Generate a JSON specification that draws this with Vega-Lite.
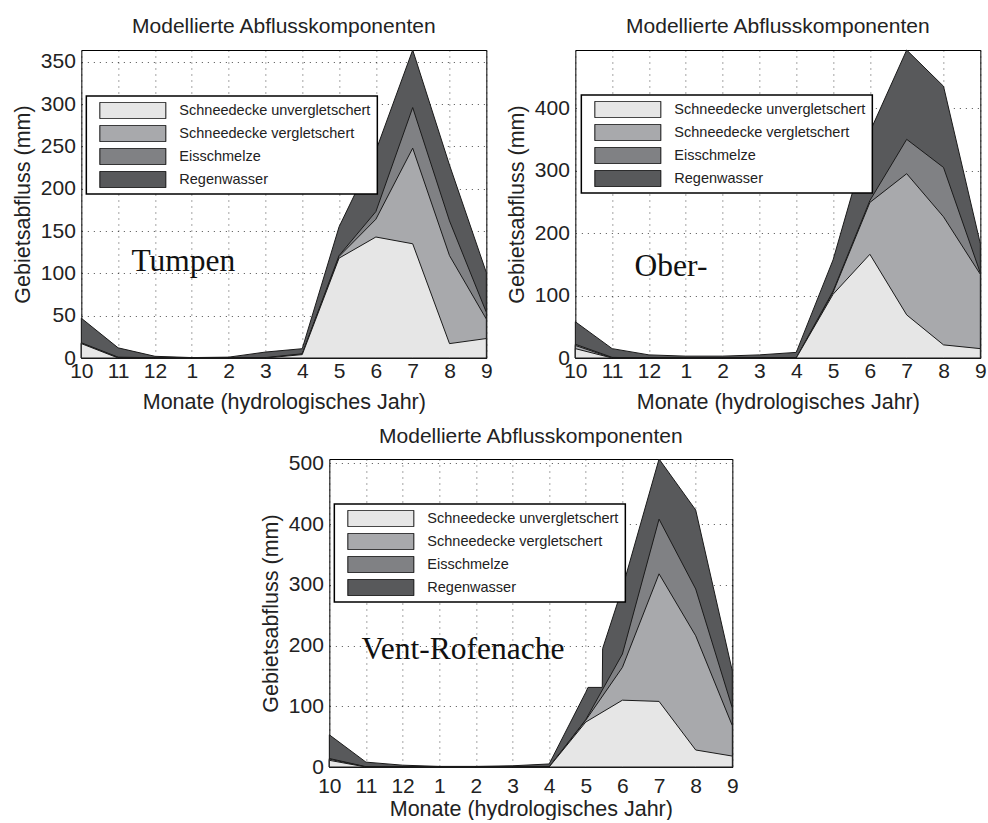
{
  "$schema": "https://vega.github.io/schema/vega-lite/v6.json",
  "background": "white",
  "padding": {"left": 11, "top": 10, "right": 0, "bottom": 0},
  "config": {
    "font": "Liberation Sans",
    "view": {"stroke": "black", "strokeWidth": 1},
    "title": {"font": "Liberation Sans", "fontSize": 21, "fontWeight": "normal", "color": "#222", "offset": 11, "anchor": "middle", "frame": "group"},
    "axis": {"labelFont": "Liberation Sans", "labelFontSize": 21, "labelColor": "#222", "titleFont": "Liberation Sans", "titleFontSize": 21.5, "titleFontWeight": "normal", "titleColor": "#222", "ticks": false, "domain": false, "grid": true, "gridColor": "#000", "gridDash": [1, 5], "gridOpacity": 0.7, "labelFlush": false, "labelOverlap": false, "labelBound": false},
    "axisX": {"labelPadding": 2, "titlePadding": 10, "labelAngle": 0},
    "axisY": {"labelPadding": 6, "titlePadding": 6},
    "legend": {"orient": "none", "direction": "vertical", "symbolType": "M-1,-0.25H1V0.25H-1Z", "symbolSize": 4356, "clipHeight": 17, "rowPadding": 6, "symbolOffset": 7, "labelOffset": 13, "padding": 6, "strokeColor": "black", "strokeWidth": 1.5, "fillColor": "white", "symbolStrokeColor": "#111", "symbolStrokeWidth": 1, "symbolOpacity": 1, "labelFont": "Liberation Sans", "labelFontSize": 14.5, "labelColor": "#222", "labelLimit": 400}
  },
  "datasets": {
    "tumpen": [
      {"pos": 1, "komp": "Regenwasser", "kum": 47}, {"pos": 2, "komp": "Regenwasser", "kum": 12}, {"pos": 3, "komp": "Regenwasser", "kum": 2}, {"pos": 4, "komp": "Regenwasser", "kum": 0.5}, {"pos": 5, "komp": "Regenwasser", "kum": 1}, {"pos": 6, "komp": "Regenwasser", "kum": 7}, {"pos": 7, "komp": "Regenwasser", "kum": 11}, {"pos": 8, "komp": "Regenwasser", "kum": 155}, {"pos": 9, "komp": "Regenwasser", "kum": 245}, {"pos": 10, "komp": "Regenwasser", "kum": 364}, {"pos": 11, "komp": "Regenwasser", "kum": 228}, {"pos": 12, "komp": "Regenwasser", "kum": 101},
      {"pos": 1, "komp": "Eisschmelze", "kum": 18}, {"pos": 2, "komp": "Eisschmelze", "kum": 1}, {"pos": 3, "komp": "Eisschmelze", "kum": 0.3}, {"pos": 4, "komp": "Eisschmelze", "kum": 0}, {"pos": 5, "komp": "Eisschmelze", "kum": 0}, {"pos": 6, "komp": "Eisschmelze", "kum": 0.5}, {"pos": 7, "komp": "Eisschmelze", "kum": 5}, {"pos": 8, "komp": "Eisschmelze", "kum": 121}, {"pos": 9, "komp": "Eisschmelze", "kum": 173}, {"pos": 10, "komp": "Eisschmelze", "kum": 296}, {"pos": 11, "komp": "Eisschmelze", "kum": 162}, {"pos": 12, "komp": "Eisschmelze", "kum": 54},
      {"pos": 1, "komp": "Schneedecke vergletschert", "kum": 17.5}, {"pos": 2, "komp": "Schneedecke vergletschert", "kum": 0.5}, {"pos": 3, "komp": "Schneedecke vergletschert", "kum": 0}, {"pos": 4, "komp": "Schneedecke vergletschert", "kum": 0}, {"pos": 5, "komp": "Schneedecke vergletschert", "kum": 0}, {"pos": 6, "komp": "Schneedecke vergletschert", "kum": 0}, {"pos": 7, "komp": "Schneedecke vergletschert", "kum": 4.5}, {"pos": 8, "komp": "Schneedecke vergletschert", "kum": 120}, {"pos": 9, "komp": "Schneedecke vergletschert", "kum": 164}, {"pos": 10, "komp": "Schneedecke vergletschert", "kum": 248}, {"pos": 11, "komp": "Schneedecke vergletschert", "kum": 121}, {"pos": 12, "komp": "Schneedecke vergletschert", "kum": 46},
      {"pos": 1, "komp": "Schneedecke unvergletschert", "kum": 17}, {"pos": 2, "komp": "Schneedecke unvergletschert", "kum": 0}, {"pos": 3, "komp": "Schneedecke unvergletschert", "kum": 0}, {"pos": 4, "komp": "Schneedecke unvergletschert", "kum": 0}, {"pos": 5, "komp": "Schneedecke unvergletschert", "kum": 0}, {"pos": 6, "komp": "Schneedecke unvergletschert", "kum": 0}, {"pos": 7, "komp": "Schneedecke unvergletschert", "kum": 4}, {"pos": 8, "komp": "Schneedecke unvergletschert", "kum": 118}, {"pos": 9, "komp": "Schneedecke unvergletschert", "kum": 143}, {"pos": 10, "komp": "Schneedecke unvergletschert", "kum": 135}, {"pos": 11, "komp": "Schneedecke unvergletschert", "kum": 17}, {"pos": 12, "komp": "Schneedecke unvergletschert", "kum": 23}
    ],
    "ober": [
      {"pos": 1, "komp": "Regenwasser", "kum": 58}, {"pos": 2, "komp": "Regenwasser", "kum": 15}, {"pos": 3, "komp": "Regenwasser", "kum": 5}, {"pos": 4, "komp": "Regenwasser", "kum": 3}, {"pos": 5, "komp": "Regenwasser", "kum": 3}, {"pos": 6, "komp": "Regenwasser", "kum": 5}, {"pos": 7, "komp": "Regenwasser", "kum": 9}, {"pos": 8, "komp": "Regenwasser", "kum": 157}, {"pos": 9, "komp": "Regenwasser", "kum": 362}, {"pos": 10, "komp": "Regenwasser", "kum": 493}, {"pos": 11, "komp": "Regenwasser", "kum": 435}, {"pos": 12, "komp": "Regenwasser", "kum": 183},
      {"pos": 1, "komp": "Eisschmelze", "kum": 22}, {"pos": 2, "komp": "Eisschmelze", "kum": 1}, {"pos": 3, "komp": "Eisschmelze", "kum": 0}, {"pos": 4, "komp": "Eisschmelze", "kum": 0}, {"pos": 5, "komp": "Eisschmelze", "kum": 0}, {"pos": 6, "komp": "Eisschmelze", "kum": 0}, {"pos": 7, "komp": "Eisschmelze", "kum": 0}, {"pos": 8, "komp": "Eisschmelze", "kum": 107}, {"pos": 9, "komp": "Eisschmelze", "kum": 252}, {"pos": 10, "komp": "Eisschmelze", "kum": 350}, {"pos": 11, "komp": "Eisschmelze", "kum": 305}, {"pos": 12, "komp": "Eisschmelze", "kum": 136},
      {"pos": 1, "komp": "Schneedecke vergletschert", "kum": 20}, {"pos": 2, "komp": "Schneedecke vergletschert", "kum": 0}, {"pos": 3, "komp": "Schneedecke vergletschert", "kum": 0}, {"pos": 4, "komp": "Schneedecke vergletschert", "kum": 0}, {"pos": 5, "komp": "Schneedecke vergletschert", "kum": 0}, {"pos": 6, "komp": "Schneedecke vergletschert", "kum": 0}, {"pos": 7, "komp": "Schneedecke vergletschert", "kum": 0}, {"pos": 8, "komp": "Schneedecke vergletschert", "kum": 105}, {"pos": 9, "komp": "Schneedecke vergletschert", "kum": 249}, {"pos": 10, "komp": "Schneedecke vergletschert", "kum": 295}, {"pos": 11, "komp": "Schneedecke vergletschert", "kum": 226}, {"pos": 12, "komp": "Schneedecke vergletschert", "kum": 134},
      {"pos": 1, "komp": "Schneedecke unvergletschert", "kum": 15}, {"pos": 2, "komp": "Schneedecke unvergletschert", "kum": 0}, {"pos": 3, "komp": "Schneedecke unvergletschert", "kum": 0}, {"pos": 4, "komp": "Schneedecke unvergletschert", "kum": 0}, {"pos": 5, "komp": "Schneedecke unvergletschert", "kum": 0}, {"pos": 6, "komp": "Schneedecke unvergletschert", "kum": 0}, {"pos": 7, "komp": "Schneedecke unvergletschert", "kum": 0}, {"pos": 8, "komp": "Schneedecke unvergletschert", "kum": 102}, {"pos": 9, "komp": "Schneedecke unvergletschert", "kum": 166}, {"pos": 10, "komp": "Schneedecke unvergletschert", "kum": 69}, {"pos": 11, "komp": "Schneedecke unvergletschert", "kum": 21}, {"pos": 12, "komp": "Schneedecke unvergletschert", "kum": 15}
    ],
    "vent": [
      {"pos": 1, "komp": "Regenwasser", "kum": 53}, {"pos": 2, "komp": "Regenwasser", "kum": 8}, {"pos": 3, "komp": "Regenwasser", "kum": 3}, {"pos": 4, "komp": "Regenwasser", "kum": 1}, {"pos": 5, "komp": "Regenwasser", "kum": 1}, {"pos": 6, "komp": "Regenwasser", "kum": 2}, {"pos": 7, "komp": "Regenwasser", "kum": 5}, {"pos": 8, "komp": "Regenwasser", "kum": 123}, {"pos": 8.06, "komp": "Regenwasser", "kum": 131}, {"pos": 8.45, "komp": "Regenwasser", "kum": 131}, {"pos": 8.46, "komp": "Regenwasser", "kum": 195}, {"pos": 9, "komp": "Regenwasser", "kum": 295}, {"pos": 10, "komp": "Regenwasser", "kum": 507}, {"pos": 11, "komp": "Regenwasser", "kum": 423}, {"pos": 12, "komp": "Regenwasser", "kum": 158},
      {"pos": 1, "komp": "Eisschmelze", "kum": 14}, {"pos": 2, "komp": "Eisschmelze", "kum": 0.5}, {"pos": 3, "komp": "Eisschmelze", "kum": 0}, {"pos": 4, "komp": "Eisschmelze", "kum": 0}, {"pos": 5, "komp": "Eisschmelze", "kum": 0}, {"pos": 6, "komp": "Eisschmelze", "kum": 0}, {"pos": 7, "komp": "Eisschmelze", "kum": 0}, {"pos": 8, "komp": "Eisschmelze", "kum": 78}, {"pos": 9, "komp": "Eisschmelze", "kum": 186}, {"pos": 10, "komp": "Eisschmelze", "kum": 408}, {"pos": 11, "komp": "Eisschmelze", "kum": 293}, {"pos": 12, "komp": "Eisschmelze", "kum": 97},
      {"pos": 1, "komp": "Schneedecke vergletschert", "kum": 13}, {"pos": 2, "komp": "Schneedecke vergletschert", "kum": 0}, {"pos": 3, "komp": "Schneedecke vergletschert", "kum": 0}, {"pos": 4, "komp": "Schneedecke vergletschert", "kum": 0}, {"pos": 5, "komp": "Schneedecke vergletschert", "kum": 0}, {"pos": 6, "komp": "Schneedecke vergletschert", "kum": 0}, {"pos": 7, "komp": "Schneedecke vergletschert", "kum": 0}, {"pos": 8, "komp": "Schneedecke vergletschert", "kum": 77}, {"pos": 9, "komp": "Schneedecke vergletschert", "kum": 164}, {"pos": 10, "komp": "Schneedecke vergletschert", "kum": 318}, {"pos": 11, "komp": "Schneedecke vergletschert", "kum": 216}, {"pos": 12, "komp": "Schneedecke vergletschert", "kum": 68},
      {"pos": 1, "komp": "Schneedecke unvergletschert", "kum": 11}, {"pos": 2, "komp": "Schneedecke unvergletschert", "kum": 0}, {"pos": 3, "komp": "Schneedecke unvergletschert", "kum": 0}, {"pos": 4, "komp": "Schneedecke unvergletschert", "kum": 0}, {"pos": 5, "komp": "Schneedecke unvergletschert", "kum": 0}, {"pos": 6, "komp": "Schneedecke unvergletschert", "kum": 0}, {"pos": 7, "komp": "Schneedecke unvergletschert", "kum": 0}, {"pos": 8, "komp": "Schneedecke unvergletschert", "kum": 74}, {"pos": 9, "komp": "Schneedecke unvergletschert", "kum": 110}, {"pos": 10, "komp": "Schneedecke unvergletschert", "kum": 108}, {"pos": 11, "komp": "Schneedecke unvergletschert", "kum": 28}, {"pos": 12, "komp": "Schneedecke unvergletschert", "kum": 18}
    ]
  },
  "vconcat": [
    {
      "hconcat": [
        {
          "width": 405, "height": 308,
          "title": {"text": [" ", "Modellierte Abflusskomponenten"], "lineHeight": 5},
          "layer": [
            {
              "data": {"name": "tumpen"},
              "mark": {"type": "area", "stroke": "#1a1a1a", "strokeWidth": 1, "opacity": 1},
              "encoding": {
                "x": {"field": "pos", "type": "quantitative", "scale": {"domain": [1, 12], "nice": false, "zero": false}, "axis": {"values": [1, 2, 3, 4, 5, 6, 7, 8, 9, 10, 11, 12], "tickCount": 20, "labelOverlap": false, "labelFlush": false, "labelExpr": "'' + (datum.value >= 4 ? datum.value - 3 : datum.value + 9)", "title": "Monate (hydrologisches Jahr)"}},
                "y": {"field": "kum", "type": "quantitative", "stack": null, "scale": {"domain": [0, 364], "nice": false}, "axis": {"values": [0, 50, 100, 150, 200, 250, 300, 350], "tickCount": 20, "labelOverlap": false, "title": "Gebietsabfluss (mm)"}},
                "color": {"field": "komp", "type": "nominal", "scale": {"domain": ["Schneedecke unvergletschert", "Schneedecke vergletschert", "Eisschmelze", "Regenwasser"], "range": ["#e6e6e6", "#a8a9ac", "#808184", "#58595b"]}, "legend": {"title": null, "legendX": 5, "legendY": 46}}
              }
            },
            {
              "data": {"values": [{"name": "Tumpen", "pos": 2.36, "kum": 103}]},
              "mark": {"type": "text", "font": "Liberation Serif", "fontSize": 31.5, "align": "left", "baseline": "alphabetic", "color": "#111"},
              "encoding": {"x": {"field": "pos", "type": "quantitative"}, "y": {"field": "kum", "type": "quantitative"}, "text": {"field": "name"}}
            }
          ]
        },
        {
          "width": 405, "height": 308,
          "title": "Modellierte Abflusskomponenten",
          "layer": [
            {
              "data": {"name": "ober"},
              "mark": {"type": "area", "stroke": "#1a1a1a", "strokeWidth": 1, "opacity": 1},
              "encoding": {
                "x": {"field": "pos", "type": "quantitative", "scale": {"domain": [1, 12], "nice": false, "zero": false}, "axis": {"values": [1, 2, 3, 4, 5, 6, 7, 8, 9, 10, 11, 12], "tickCount": 20, "labelOverlap": false, "labelFlush": false, "labelExpr": "'' + (datum.value >= 4 ? datum.value - 3 : datum.value + 9)", "title": "Monate (hydrologisches Jahr)"}},
                "y": {"field": "kum", "type": "quantitative", "stack": null, "scale": {"domain": [0, 493], "nice": false}, "axis": {"values": [0, 100, 200, 300, 400], "tickCount": 20, "labelOverlap": false, "title": "Gebietsabfluss (mm)"}},
                "color": {"field": "komp", "type": "nominal", "scale": {"domain": ["Schneedecke unvergletschert", "Schneedecke vergletschert", "Eisschmelze", "Regenwasser"], "range": ["#e6e6e6", "#a8a9ac", "#808184", "#58595b"]}, "legend": {"title": null, "legendX": 6, "legendY": 45}}
              }
            },
            {
              "data": {"values": [{"name": "Ober-", "pos": 2.61, "kum": 132}]},
              "mark": {"type": "text", "font": "Liberation Serif", "fontSize": 31.5, "align": "left", "baseline": "alphabetic", "color": "#111"},
              "encoding": {"x": {"field": "pos", "type": "quantitative"}, "y": {"field": "kum", "type": "quantitative"}, "text": {"field": "name"}}
            }
          ]
        }
      ],
      "spacing": 12,
      "resolve": {"scale": {"color": "independent"}, "legend": {"color": "independent"}}
    },
    {
      "width": 403, "height": 308,
      "title": {"text": "Modellierte Abflusskomponenten", "offset": 5},
      "layer": [
        {
          "data": {"name": "vent"},
          "mark": {"type": "area", "stroke": "#1a1a1a", "strokeWidth": 1, "opacity": 1},
          "encoding": {
            "x": {"field": "pos", "type": "quantitative", "scale": {"domain": [1, 12], "nice": false, "zero": false}, "axis": {"values": [1, 2, 3, 4, 5, 6, 7, 8, 9, 10, 11, 12], "tickCount": 20, "labelOverlap": false, "labelFlush": false, "labelPadding": 8, "titlePadding": 2, "labelExpr": "'' + (datum.value >= 4 ? datum.value - 3 : datum.value + 9)", "title": "Monate (hydrologisches Jahr)"}},
            "y": {"field": "kum", "type": "quantitative", "stack": null, "scale": {"domain": [0, 507], "nice": false}, "axis": {"values": [0, 100, 200, 300, 400, 500], "tickCount": 20, "labelOverlap": false, "title": "Gebietsabfluss (mm)"}},
            "color": {"field": "komp", "type": "nominal", "scale": {"domain": ["Schneedecke unvergletschert", "Schneedecke vergletschert", "Eisschmelze", "Regenwasser"], "range": ["#e6e6e6", "#a8a9ac", "#808184", "#58595b"]}, "legend": {"title": null, "legendX": 5, "legendY": 45}}
          }
        },
        {
          "data": {"values": [{"name": "Vent-Rofenache", "pos": 1.88, "kum": 178}]},
          "mark": {"type": "text", "font": "Liberation Serif", "fontSize": 31.5, "align": "left", "baseline": "alphabetic", "color": "#111"},
          "encoding": {"x": {"field": "pos", "type": "quantitative"}, "y": {"field": "kum", "type": "quantitative"}, "text": {"field": "name"}}
        }
      ]
    }
  ],
  "spacing": 12,
  "center": true,
  "resolve": {"scale": {"color": "independent"}, "legend": {"color": "independent"}}
}
